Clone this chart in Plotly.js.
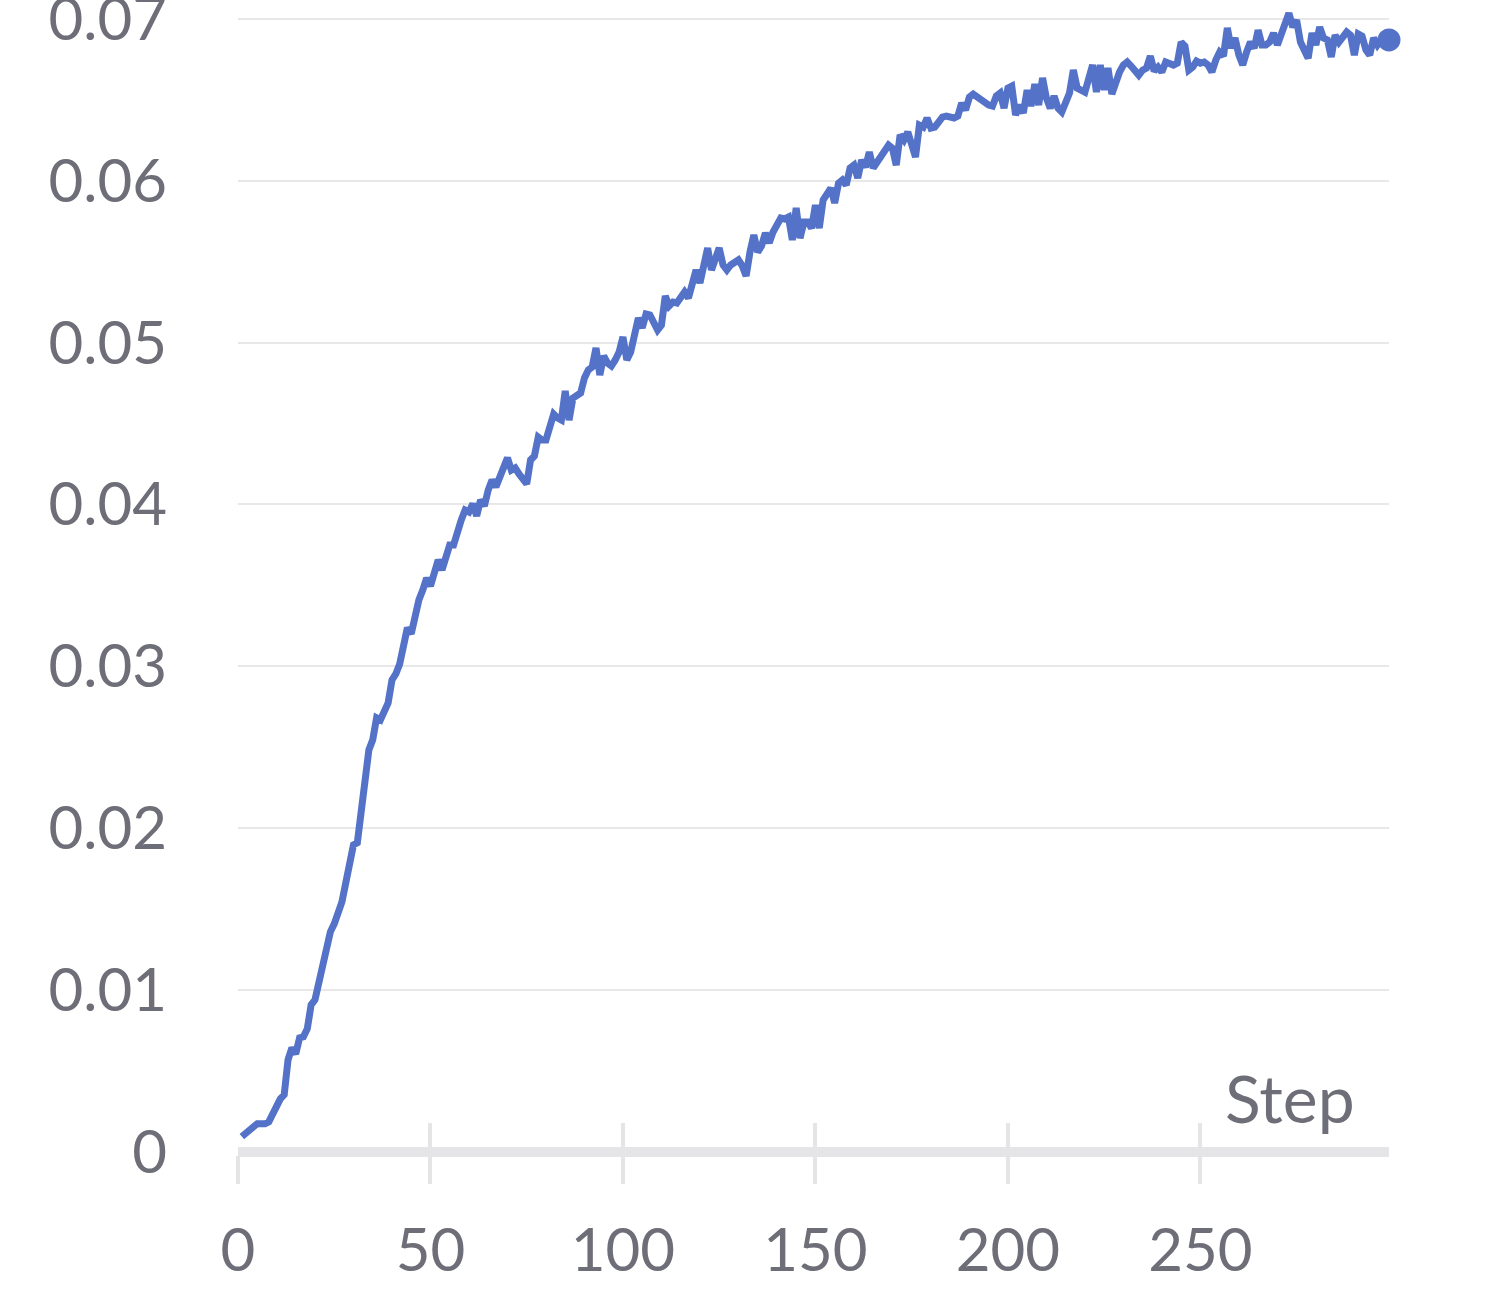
<!DOCTYPE html>
<html>
<head>
<meta charset="utf-8">
<script src="https://cdn.plot.ly/plotly-3.0.1.min.js"></script>
<style>
  html, body { margin: 0; padding: 0; background: #ffffff; }
  #chart { width: 1503px; height: 1296px; }
</style>
</head>
<body>
<div id="chart"></div>
<script>
// ---- data ----
const steps = [
  1,2,4,5,7,8,9,10,11,12,13,14,15,16,17,18,19,20,21,22,23,24,25,26,27,28,29,30,
  31,32,33,34,35,36,37,38,39,40,41,42,43,44,45,46,47,48,49,50,51,52,53,54,55,56,57,58,59,60,
  61,62,63,64,65,66,67,68,69,70,71,72,73,74,75,76,77,78,79,80,81,82,83,84,85,86,87,88,89,90,
  91,92,93,94,95,96,97,98,99,100,101,102,103,104,105,106,107,108,109,110,111,112,113,114,115,116,117,118,119,120,
  121,122,123,124,125,126,127,128,129,130,131,132,133,134,135,136,137,138,139,140,141,142,143,144,145,146,147,148,149,150,
  151,152,153,154,155,156,157,158,159,160,161,162,163,164,165,166,167,168,169,170,171,172,173,174,175,176,177,178,179,180,
  181,182,183,184,185,186,187,188,189,190,191,193,194,195,196,197,198,199,200,201,202,203,204,205,206,207,208,209,210,
  211,212,213,214,215,216,217,218,220,221,222,223,224,225,226,227,228,229,230,231,232,233,234,235,236,237,238,239,240,
  241,242,243,244,245,246,247,248,249,250,251,252,253,254,255,256,257,258,259,260,261,262,263,264,265,266,267,268,269,270,
  272,273,274,275,276,278,279,280,281,282,283,284,285,286,287,288,289,290,291,292,293,294,295,296,297,298,299
];
const values = [
  0.00093,0.00117,0.00154,0.00173,0.00173,0.00185,0.00229,0.00290,0.00327,0.00352,0.00568,0.00642,0.00605,0.00704,0.00710,0.00760,0.00908,0.00939,0.01050,0.01155,0.01235,0.01359,0.01408,0.01470,0.01544,0.01662,0.01804,0.01896,
  0.01909,0.02100,0.02298,0.02483,0.02545,0.02681,0.02668,0.02730,0.02773,0.02915,0.02952,0.03014,0.03132,0.03237,0.03200,0.03323,0.03410,0.03471,0.03545,0.03496,0.03576,0.03657,0.03595,0.03675,0.03749,0.03749,0.03842,0.03904,0.03965,0.03953,
  0.04003,0.03928,0.04027,0.03990,0.04089,0.04151,0.04108,0.04163,0.04225,0.04287,0.04212,0.04225,0.04188,0.04151,0.04126,0.04274,0.04299,0.04416,0.04398,0.04398,0.04490,0.04558,0.04534,0.04521,0.04700,0.04521,0.04657,0.04676,0.04688,0.04781,
  0.04830,0.04849,0.04966,0.04799,0.04917,0.04873,0.04855,0.04892,0.04941,0.05034,0.04892,0.04941,0.05028,0.05151,0.05090,0.05176,0.05170,0.05127,0.05077,0.05108,0.05287,0.05226,0.05250,0.05244,0.05275,0.05312,0.05275,0.05368,0.05448,0.05368,
  0.05466,0.05584,0.05448,0.05510,0.05584,0.05479,0.05448,0.05479,0.05497,0.05510,0.05473,0.05411,0.05559,0.05664,0.05559,0.05596,0.05676,0.05615,0.05683,0.05738,0.05769,0.05763,0.05775,0.05633,0.05831,0.05645,0.05744,0.05744,0.05707,0.05849,
  0.05707,0.05880,0.05911,0.05954,0.05862,0.05985,0.06004,0.05973,0.06078,0.06096,0.06016,0.06127,0.06084,0.06177,0.06078,0.06115,0.06158,0.06189,0.06220,0.06201,0.06096,0.06282,0.06251,0.06300,0.06220,0.06146,0.06343,0.06331,0.06387,0.06325,
  0.06331,0.06362,0.06393,0.06399,0.06387,0.06387,0.06399,0.06479,0.06436,0.06516,0.06535,0.06498,0.06485,0.06467,0.06461,0.06523,0.06541,0.06448,0.06572,0.06584,0.06405,0.06467,0.06418,0.06560,0.06461,0.06597,0.06467,0.06634,0.06510,
  0.06448,0.06523,0.06448,0.06424,0.06498,0.06541,0.06683,0.06572,0.06547,0.06634,0.06714,0.06547,0.06714,0.06560,0.06696,0.06535,0.06622,0.06671,0.06714,0.06733,0.06708,0.06671,0.06652,0.06683,0.06696,0.06770,0.06677,0.06702,0.06671,
  0.06733,0.06726,0.06714,0.06726,0.06856,0.06831,0.06683,0.06702,0.06739,0.06726,0.06733,0.06714,0.06671,0.06745,0.06794,0.06770,0.06943,0.06819,0.06881,0.06776,0.06714,0.06794,0.06856,0.06819,0.06930,0.06838,0.06838,0.06856,0.06912,0.06838,
  0.06961,0.07035,0.06949,0.06992,0.06856,0.06757,0.06912,0.06838,0.06949,0.06881,0.06869,0.06764,0.06899,0.06856,0.06887,0.06918,0.06899,0.06776,0.06906,0.06893,0.06807,0.06776,0.06881,0.06838,0.06869,0.06869,0.06869
];
const xTickVals = [0, 50, 100, 150, 200, 250];
const xTickText = ["0", "50", "100", "150", "200", "250"];
const yTickVals = [0, 0.01, 0.02, 0.03, 0.04, 0.05, 0.06, 0.07];
const yTickText = ["0", "0.01", "0.02", "0.03", "0.04", "0.05", "0.06", "0.07"];
const xTitle = "Step";

// ---- styling ----
const LINE = "#5372c8";
const TEXT = "#6e6e78";
const GRID = "#e8e8eb";
const AXIS = "#e5e5e8";
const FONT = "Lato, 'Noto Sans', sans-serif";
const xRange = [0, 299];
const yRange = [-0.0002, 0.071161];

const lastIdx = steps.length - 1;

const traces = [
  {
    type: "scatter", mode: "lines",
    x: steps, y: values,
    line: { color: LINE, width: 7, shape: "linear" },
    hoverinfo: "skip", showlegend: false
  },
  {
    type: "scatter", mode: "markers",
    x: [steps[lastIdx]], y: [values[lastIdx]],
    xaxis: "x2", yaxis: "y",
    marker: { color: LINE, size: 23, line: { width: 0 } },
    hoverinfo: "skip", showlegend: false, cliponaxis: false
  }
];

const layout = {
  width: 1503, height: 1296,
  margin: { l: 238, r: 114, t: 0, b: 141, pad: 0 },
  paper_bgcolor: "#ffffff", plot_bgcolor: "#ffffff",
  font: { family: FONT, size: 60, color: TEXT },
  showlegend: false,
  hovermode: false,
  xaxis: {
    range: xRange, fixedrange: true,
    tickmode: "array", tickvals: xTickVals, ticktext: xTickText,
    ticks: "outside", ticklen: 28, tickwidth: 4, tickcolor: AXIS,
    showgrid: false, zeroline: false, showline: false,
    tickfont: { family: FONT, size: 60, color: TEXT },
    ticklabelstandoff: 15, ticklabeloverflow: "allow"
  },
  xaxis2: {
    range: xRange, fixedrange: true, overlaying: "x", anchor: "y", side: "bottom",
    tickmode: "array", tickvals: xTickVals,
    ticks: "inside", ticklen: 32, tickwidth: 4, tickcolor: AXIS,
    showticklabels: false, showgrid: false, zeroline: false, showline: false
  },
  yaxis: {
    range: yRange, fixedrange: true,
    tickmode: "array", tickvals: yTickVals, ticktext: yTickText,
    ticks: "", showline: false,
    showgrid: true, gridcolor: GRID, gridwidth: 2,
    zeroline: true, zerolinecolor: AXIS, zerolinewidth: 10,
    tickfont: { family: FONT, size: 60, color: TEXT },
    ticklabelstandoff: 70, ticklabeloverflow: "allow"
  },
  annotations: [
    {
      text: xTitle, xref: "paper", yref: "paper",
      x: 0.9722, y: 0, xanchor: "right", yanchor: "bottom",
      yshift: 16, showarrow: false,
      font: { family: FONT, size: 66, color: TEXT }
    }
  ]
};

Plotly.newPlot("chart", traces, layout, { staticPlot: true, displayModeBar: false });
</script>
</body>
</html>
